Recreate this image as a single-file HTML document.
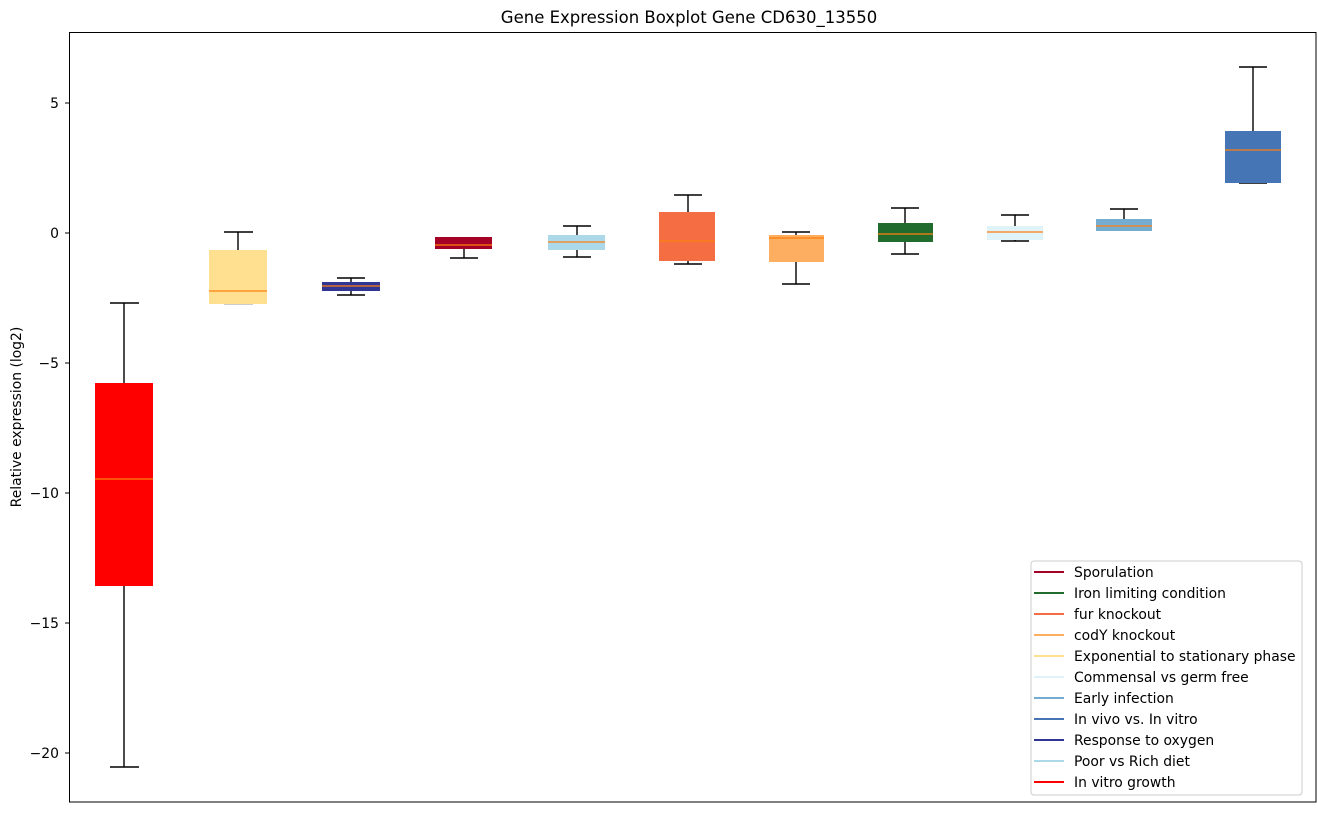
<!DOCTYPE html>
<html><head><meta charset="utf-8"><style>
html,body{margin:0;padding:0;background:#fff;}
svg text{font-family:"DejaVu Sans","Liberation Sans",sans-serif;fill:#000;}
</style></head><body>
<svg width="1318" height="812" xmlns="http://www.w3.org/2000/svg">
<rect width="1318" height="812" fill="#fff"/>
<text x="689" y="23" font-size="16.5" text-anchor="middle">Gene Expression Boxplot Gene CD630_13550</text>
<g stroke="#000" stroke-width="1">
<line x1="65" y1="103" x2="69" y2="103"/><line x1="65" y1="233" x2="69" y2="233"/>
<line x1="65" y1="363" x2="69" y2="363"/><line x1="65" y1="493" x2="69" y2="493"/>
<line x1="65" y1="623" x2="69" y2="623"/><line x1="65" y1="753" x2="69" y2="753"/>
</g>
<g font-size="13.9" text-anchor="end">
<text x="59" y="108">5</text><text x="59" y="238">0</text>
<text x="59" y="368">−5</text><text x="59" y="498">−10</text>
<text x="59" y="628">−15</text><text x="59" y="758">−20</text>
</g>
<text transform="translate(21,417) rotate(-90)" font-size="13.9" text-anchor="middle">Relative expression (log2)</text>
<g stroke="#000" stroke-width="1.4" fill="none">
<line x1="124" y1="303" x2="124" y2="383"/><line x1="124" y1="586" x2="124" y2="767"/><line x1="110" y1="303" x2="139" y2="303"/><line x1="110" y1="767" x2="139" y2="767"/>
<line x1="238" y1="232" x2="238" y2="250"/><line x1="224" y1="232" x2="253" y2="232"/><line x1="224" y1="304" x2="253" y2="304" stroke="#bbb"/>
<line x1="351" y1="278" x2="351" y2="295"/><line x1="337" y1="278" x2="365" y2="278"/><line x1="337" y1="295" x2="365" y2="295"/>
<line x1="464" y1="249" x2="464" y2="258"/><line x1="450" y1="258" x2="478" y2="258"/>
<line x1="577" y1="226" x2="577" y2="257"/><line x1="563" y1="226" x2="591" y2="226"/><line x1="563" y1="257" x2="591" y2="257"/>
<line x1="688" y1="195" x2="688" y2="264"/><line x1="674" y1="195" x2="702" y2="195"/><line x1="674" y1="264" x2="702" y2="264"/>
<line x1="796" y1="232" x2="796" y2="284"/><line x1="782" y1="232" x2="810" y2="232"/><line x1="782" y1="284" x2="810" y2="284"/>
<line x1="905" y1="208" x2="905" y2="254"/><line x1="891" y1="208" x2="919" y2="208"/><line x1="891" y1="254" x2="919" y2="254"/>
<line x1="1015" y1="215" x2="1015" y2="241"/><line x1="1001" y1="215" x2="1029" y2="215"/><line x1="1001" y1="241" x2="1029" y2="241"/>
<line x1="1124" y1="209" x2="1124" y2="219"/><line x1="1110" y1="209" x2="1138" y2="209"/>
<line x1="1253" y1="67" x2="1253" y2="131"/><line x1="1239" y1="67" x2="1267" y2="67"/><line x1="1239" y1="183" x2="1267" y2="183"/>
</g>
<g stroke="none">
<rect x="95" y="383" width="58" height="203" fill="#ff0000"/>
<rect x="209" y="250" width="58" height="54" fill="#fee090"/>
<rect x="322" y="282" width="58" height="9" fill="#313695"/>
<rect x="435" y="237" width="57" height="12" fill="#a50026"/>
<rect x="548" y="235" width="57" height="15" fill="#abd9e9"/>
<rect x="659" y="212" width="56" height="49" fill="#f46d43"/>
<rect x="769" y="235" width="55" height="27" fill="#fdae61"/>
<rect x="878" y="223" width="55" height="19" fill="#226b2f"/>
<rect x="987" y="226" width="56" height="14" fill="#e0f3f8"/>
<rect x="1096" y="219" width="56" height="12" fill="#74add1"/>
<rect x="1225" y="131" width="56" height="52" fill="#4575b4"/>
</g>
<g stroke="#ff7f0e" stroke-width="1.2">
<line x1="95" y1="479" x2="153" y2="479"/>
<line x1="209" y1="291" x2="267" y2="291"/>
<line x1="322" y1="286" x2="380" y2="286"/>
<line x1="435" y1="245" x2="492" y2="245"/>
<line x1="548" y1="242" x2="605" y2="242"/>
<line x1="659" y1="241" x2="715" y2="241"/>
<line x1="769" y1="238" x2="824" y2="238"/>
<line x1="878" y1="234" x2="933" y2="234"/>
<line x1="987" y1="232" x2="1043" y2="232"/>
<line x1="1096" y1="226" x2="1152" y2="226"/>
<line x1="1225" y1="150" x2="1281" y2="150"/>
</g>
<rect x="69.5" y="32.5" width="1246.5" height="769.5" fill="none" stroke="#000" stroke-width="1"/>
<rect x="1031" y="561" width="271" height="234" rx="3" fill="#fff" stroke="#ccc" stroke-width="1"/>
<g stroke-width="2">
<line x1="1034" y1="572" x2="1064" y2="572" stroke="#a50026"/>
<line x1="1034" y1="593" x2="1064" y2="593" stroke="#226b2f"/>
<line x1="1034" y1="614" x2="1064" y2="614" stroke="#f46d43"/>
<line x1="1034" y1="635" x2="1064" y2="635" stroke="#fdae61"/>
<line x1="1034" y1="656" x2="1064" y2="656" stroke="#fee090"/>
<line x1="1034" y1="677" x2="1064" y2="677" stroke="#e0f3f8"/>
<line x1="1034" y1="698" x2="1064" y2="698" stroke="#74add1"/>
<line x1="1034" y1="719" x2="1064" y2="719" stroke="#4575b4"/>
<line x1="1034" y1="740" x2="1064" y2="740" stroke="#313695"/>
<line x1="1034" y1="761" x2="1064" y2="761" stroke="#abd9e9"/>
<line x1="1034" y1="782" x2="1064" y2="782" stroke="#ff0000"/>
</g>
<g font-size="13.9">
<text x="1074" y="577">Sporulation</text>
<text x="1074" y="598">Iron limiting condition</text>
<text x="1074" y="619">fur knockout</text>
<text x="1074" y="640">codY knockout</text>
<text x="1074" y="661">Exponential to stationary phase</text>
<text x="1074" y="682">Commensal vs germ free</text>
<text x="1074" y="703">Early infection</text>
<text x="1074" y="724">In vivo vs. In vitro</text>
<text x="1074" y="745">Response to oxygen</text>
<text x="1074" y="766">Poor vs Rich diet</text>
<text x="1074" y="787">In vitro growth</text>
</g>
</svg>
</body></html>
